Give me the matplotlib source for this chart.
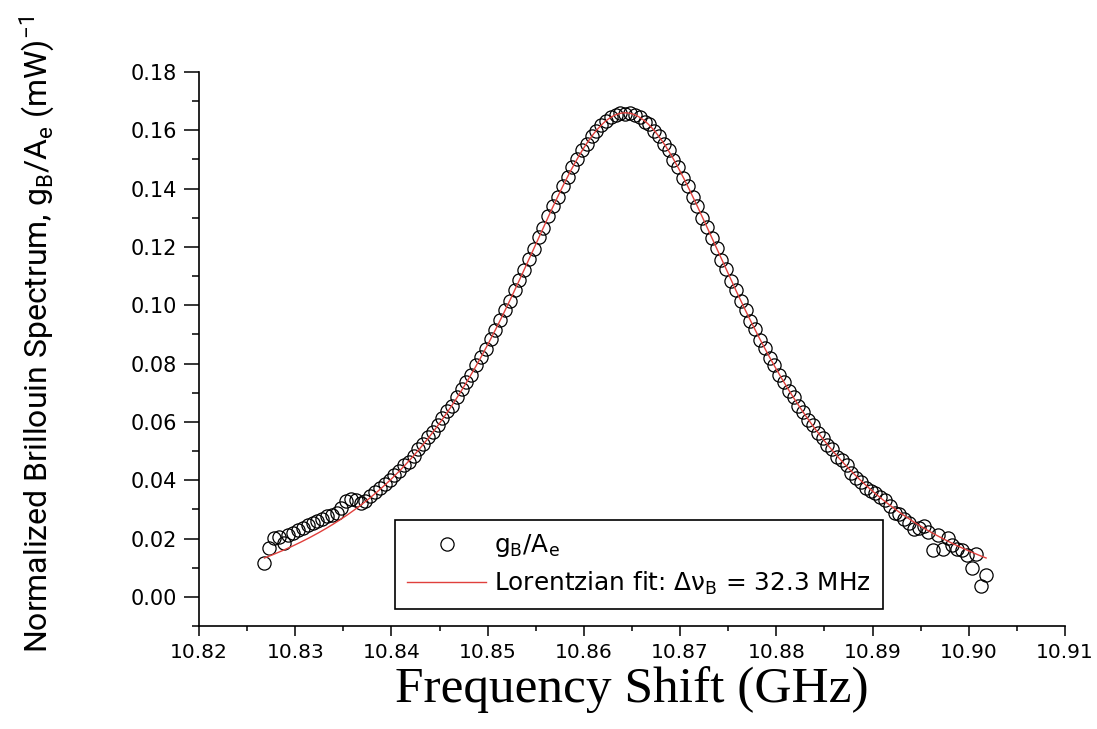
import matplotlib

matplotlib.use("Agg")
import matplotlib.pyplot as plt
import numpy as np
from matplotlib.ticker import FormatStrFormatter, MultipleLocator

# Measured Brillouin gain spectrum (swept pump-probe detuning)
FREQ_GHZ = [
    10.8268, 10.8273, 10.8278, 10.8283, 10.8288, 10.8293, 10.8298, 10.8303, 10.8308, 10.8313,
    10.8318, 10.8323, 10.8328, 10.8333, 10.8338, 10.8343, 10.8348, 10.8353, 10.8358, 10.8363,
    10.8368, 10.8373, 10.8378, 10.8383, 10.8388, 10.8393, 10.8398, 10.8403, 10.8408, 10.8413,
    10.8418, 10.8423, 10.8428, 10.8433, 10.8438, 10.8443, 10.8448, 10.8453, 10.8458, 10.8463,
    10.8468, 10.8473, 10.8478, 10.8483, 10.8488, 10.8493, 10.8498, 10.8503, 10.8508, 10.8513,
    10.8518, 10.8523, 10.8528, 10.8533, 10.8538, 10.8543, 10.8548, 10.8553, 10.8558, 10.8563,
    10.8568, 10.8573, 10.8578, 10.8583, 10.8588, 10.8593, 10.8598, 10.8603, 10.8608, 10.8613,
    10.8618, 10.8623, 10.8628, 10.8633, 10.8638, 10.8643, 10.8648, 10.8653, 10.8658, 10.8663,
    10.8668, 10.8673, 10.8678, 10.8683, 10.8688, 10.8693, 10.8698, 10.8703, 10.8708, 10.8713,
    10.8718, 10.8723, 10.8728, 10.8733, 10.8738, 10.8743, 10.8748, 10.8753, 10.8758, 10.8763,
    10.8768, 10.8773, 10.8778, 10.8783, 10.8788, 10.8793, 10.8798, 10.8803, 10.8808, 10.8813,
    10.8818, 10.8823, 10.8828, 10.8833, 10.8838, 10.8843, 10.8848, 10.8853, 10.8858, 10.8863,
    10.8868, 10.8873, 10.8878, 10.8883, 10.8888, 10.8893, 10.8898, 10.8903, 10.8908, 10.8913,
    10.8918, 10.8923, 10.8928, 10.8933, 10.8938, 10.8943, 10.8948, 10.8953, 10.8958, 10.8963,
    10.8968, 10.8973, 10.8978, 10.8983, 10.8988, 10.8993, 10.8998, 10.9003, 10.9008, 10.9013,
    10.9018,
]
GAIN = [
    0.0115, 0.0168, 0.0201, 0.0204, 0.0186, 0.0211, 0.0219, 0.0228, 0.0236, 0.0245,
    0.0252, 0.0260, 0.0268, 0.0276, 0.0282, 0.0287, 0.0305, 0.0328, 0.0334, 0.0333,
    0.0322, 0.0330, 0.0346, 0.0358, 0.0372, 0.0386, 0.0402, 0.0418, 0.0433, 0.0452,
    0.0462, 0.0482, 0.0508, 0.0525, 0.0548, 0.0566, 0.0589, 0.0612, 0.0636, 0.0655,
    0.0684, 0.0712, 0.0738, 0.0761, 0.0795, 0.0823, 0.0851, 0.0886, 0.0914, 0.0950,
    0.0984, 0.1015, 0.1053, 0.1088, 0.1120, 0.1160, 0.1193, 0.1233, 0.1266, 0.1305,
    0.1340, 0.1372, 0.1409, 0.1439, 0.1474, 0.1500, 0.1531, 0.1553, 0.1580, 0.1598,
    0.1619, 0.1631, 0.1646, 0.1652, 0.1660, 0.1657, 0.1661, 0.1651, 0.1646, 0.1630,
    0.1620, 0.1597, 0.1581, 0.1552, 0.1532, 0.1499, 0.1475, 0.1438, 0.1410, 0.1371,
    0.1342, 0.1300, 0.1269, 0.1229, 0.1197, 0.1155, 0.1124, 0.1084, 0.1053, 0.1013,
    0.0984, 0.0945, 0.0918, 0.0880, 0.0854, 0.0819, 0.0794, 0.0760, 0.0738, 0.0706,
    0.0685, 0.0654, 0.0635, 0.0606, 0.0588, 0.0561, 0.0545, 0.0520, 0.0506, 0.0480,
    0.0468, 0.0452, 0.0426, 0.0408, 0.0394, 0.0372, 0.0362, 0.0356, 0.0342, 0.0331,
    0.0312, 0.0287, 0.0283, 0.0268, 0.0252, 0.0231, 0.0235, 0.0242, 0.0221, 0.0161,
    0.0212, 0.0163, 0.0201, 0.0178, 0.0163, 0.0160, 0.0143, 0.0098, 0.0147, 0.0037,
    0.0075,
]

# Lorentzian fit parameters (y0 + H / (1 + (2 (f - fc) / w)^2))
FIT_CENTER_GHZ = 10.8643
FIT_FWHM_MHZ = 32.3
FIT_HEIGHT = 0.181
FIT_OFFSET = -0.015

FIT_COLOR = "#e0403c"
NARROW_FONT = ["Roboto", "DejaVu Sans"]
SERIF_FONT = ["Liberation Serif", "DejaVu Serif"]


def lorentzian(f: np.ndarray) -> np.ndarray:
    w = FIT_FWHM_MHZ / 1000.0
    return FIT_OFFSET + FIT_HEIGHT / (1.0 + (2.0 * (f - FIT_CENTER_GHZ) / w) ** 2)


def setup_axes(fig: plt.Figure) -> plt.Axes:
    ax = fig.add_axes([199 / 1097, 1 - 626 / 729, 866 / 1097, 554 / 729])
    for side in ("top", "right"):
        ax.spines[side].set_visible(False)
    for side in ("left", "bottom"):
        ax.spines[side].set_linewidth(1.2)

    ax.set_xlim(10.82, 10.91)
    ax.set_ylim(-0.01, 0.18)
    ax.xaxis.set_major_locator(MultipleLocator(0.01))
    ax.xaxis.set_minor_locator(MultipleLocator(0.005))
    ax.yaxis.set_major_locator(MultipleLocator(0.02))
    ax.yaxis.set_minor_locator(MultipleLocator(0.01))
    ax.xaxis.set_major_formatter(FormatStrFormatter("%.2f"))
    ax.yaxis.set_major_formatter(FormatStrFormatter("%.2f"))

    ax.tick_params(axis="x", which="major", direction="out", length=7.5, width=1.1, pad=4.5, labelsize=14.5)
    ax.tick_params(axis="x", which="minor", direction="out", length=3.8, width=1.1)
    ax.tick_params(axis="y", which="major", direction="out", length=10.5, width=1.1, pad=5.5, labelsize=15)
    ax.tick_params(axis="y", which="minor", direction="out", length=5.2, width=1.1)
    return ax


fig = plt.figure(figsize=(10.97, 7.29), dpi=100)
ax = setup_axes(fig)

freq = np.array(FREQ_GHZ)
gain = np.array(GAIN)

ax.plot(
    freq,
    gain,
    linestyle="none",
    marker="o",
    markersize=9.5,
    markerfacecolor="none",
    markeredgecolor="black",
    markeredgewidth=0.9,
    label=r"g$_\mathregular{B}$/A$_\mathregular{e}$",
)

fit_x = np.linspace(freq[0], freq[-1], 400)
ax.plot(
    fit_x,
    lorentzian(fit_x),
    color=FIT_COLOR,
    linewidth=1.0,
    label=f"Lorentzian fit: Δν$_\\mathregular{{B}}$ = {FIT_FWHM_MHZ:.1f} MHz",
)

leg = ax.legend(
    loc="upper left",
    bbox_to_anchor=((395 - 199) / 866, (626 - 520) / 554),
    borderaxespad=0,
    fontsize=17.8,
    numpoints=1,
    handlelength=3.2,
    handletextpad=0.3,
    labelspacing=0.42,
    borderpad=0.5,
    fancybox=False,
    framealpha=1,
    edgecolor="black",
    markerscale=1.0,
)
leg.get_frame().set_linewidth(1.2)

ax.set_xlabel("Frequency Shift (GHz)", fontsize=37, family=SERIF_FONT, labelpad=3)
ax.set_ylabel(
    r"Normalized Brillouin Spectrum, g$_\mathregular{B}$/A$_\mathregular{e}$ (mW)$^\mathregular{-1}$",
    fontsize=23,
    family=NARROW_FONT,
    va="baseline",
)
ax.yaxis.set_label_coords((47 - 199) / 866, (626 - 335) / 554)

fig.savefig("out.png", dpi=100)
